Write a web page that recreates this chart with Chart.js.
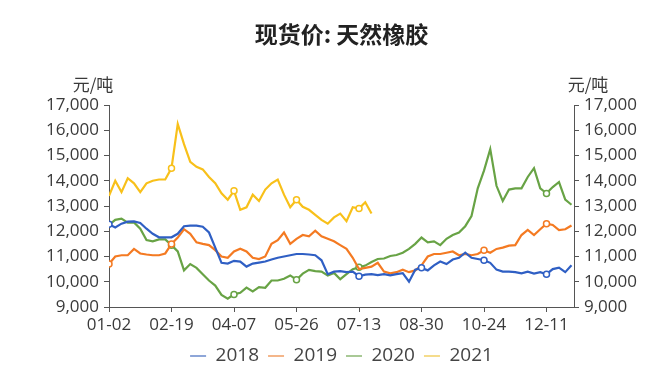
<!DOCTYPE html>
<html>
<head>
<meta charset="utf-8">
<script src="https://cdn.jsdelivr.net/npm/chart.js@4.4.1/dist/chart.umd.min.js"></script>
<style>
  body { margin: 0; background: #fff; }
</style>
</head>
<body>
<canvas id="rubber" width="671" height="385"></canvas>
<script>
// x ticks, one label every 10 points
const tickLabels = ['01-02', '02-19', '04-07', '05-26', '07-13', '08-30', '10-24', '12-11'];
const tickStep = 10;
const seriesNames = ['2018', '2019', '2020', '2021'];

const price2018 = [12280, 12150, 12300, 12380, 12390, 12330, 12100, 11900, 11760, 11760,
  11760, 11900, 12200, 12220, 12220, 12180, 11950, 11350, 10750, 10720,
  10830, 10800, 10600, 10720, 10760, 10800, 10880, 10950, 11000, 11050,
  11100, 11100, 11080, 11050, 10850, 10300, 10400, 10420, 10380, 10400,
  10220, 10280, 10300, 10260, 10300, 10250, 10300, 10340, 10000, 10480,
  10550, 10450, 10650, 10800, 10700, 10880, 10950, 11150, 10950, 10900,
  10850, 10750, 10480, 10400, 10400, 10380, 10330, 10400, 10320, 10380,
  10300, 10500, 10560, 10380, 10650];

const price2019 = [10700, 11000, 11050, 11050, 11300, 11120, 11080, 11050, 11050, 11120,
  11500, 11750, 12080, 11900, 11560, 11500, 11450, 11250, 11000, 10950,
  11200, 11310, 11200, 10950, 10900, 11000, 11500, 11650, 11950, 11500,
  11700, 11850, 11800, 12020, 11800, 11700, 11600, 11450, 11300, 10950,
  10500, 10550, 10600, 10750, 10400, 10330, 10380, 10480, 10380, 10450,
  10650, 11000, 11100, 11100, 11150, 11200, 11050, 11100, 11050, 11100,
  11250, 11150, 11300, 11350, 11430, 11450, 11850, 12050, 11850, 12080,
  12300, 12250, 12050, 12080, 12230];

const price2020 = [12250, 12450, 12500, 12340, 12350, 12100, 11650, 11600, 11680, 11680,
  11450, 11200, 10450, 10700, 10550, 10300, 10050, 9850, 9480, 9330,
  9500, 9560, 9770, 9620, 9790, 9760, 10050, 10050, 10120, 10250,
  10080, 10320, 10470, 10420, 10400, 10250, 10350, 10100, 10300, 10500,
  10570, 10640, 10780, 10900, 10920, 11020, 11060, 11150, 11300, 11500,
  11750, 11560, 11600, 11450, 11700, 11850, 11950, 12200, 12600, 13700,
  14400, 15250, 13800, 13200, 13650, 13700, 13700, 14150, 14500, 13700,
  13500, 13750, 13950, 13250, 13050];

const price2021 = [13400, 14000, 13550, 14100, 13900, 13550, 13900, 14000, 14050, 14050,
  14500, 16250, 15450, 14750, 14550, 14450, 14150, 13900, 13500, 13250,
  13600, 12850, 12950, 13450, 13200, 13650, 13900, 14050, 13450, 12950,
  13250, 12970, 12850, 12650, 12450, 12300, 12550, 12700, 12400, 12950,
  12900, 13150, 12700];

// hollow circles sit on some of the tick dates
const markers2018 = [0, 40, 50, 60, 70];
const markers2019 = [0, 10, 60, 70];
const markers2020 = [10, 20, 30, 40, 70];
const markers2021 = [10, 20, 30, 40];

const lineColors = ['#2f5fc4', '#f47a22', '#68a345', '#f8c01a'];
const legendColors = ['#8ea6d8', '#f4b68a', '#a9c996', '#f5dc8c'];
const axisColor = '#555';
const textColor = '#3a3a3a';
const numFont = { family: "'Open Sans', sans-serif", size: 17 };

const allPrices = [price2018, price2019, price2020, price2021];
const allMarkers = [markers2018, markers2019, markers2020, markers2021];

const datasets = allPrices.map((arr, k) => ({
  label: seriesNames[k],
  data: arr.map((y, i) => ({ x: i, y: y })),
  borderColor: lineColors[k],
  backgroundColor: '#fff',
  borderWidth: 2.2,
  tension: 0,
  pointRadius: ctx => allMarkers[k].includes(ctx.dataIndex) ? 3 : 0,
  pointBorderWidth: 1.5,
  pointBackgroundColor: '#fff',
  pointBorderColor: lineColors[k]
}));

// the 元/吨 unit over both y axes
const unitLabels = {
  id: 'unitLabels',
  afterDraw(chart) {
    const c = chart.ctx;
    const a = chart.chartArea;
    c.save();
    c.font = "17px 'Noto Sans CJK SC'";
    c.fillStyle = textColor;
    c.textAlign = 'center';
    c.textBaseline = 'middle';
    c.fillText('元/吨', a.left - 16, a.top - 20);
    c.fillText('元/吨', a.right + 14, a.top - 20);
    c.restore();
  }
};

const yAxis = (pos, w) => ({
  position: pos,
  min: 9000,
  max: 17000,
  ticks: { stepSize: 1000, color: textColor, font: numFont, padding: 5 },
  grid: { drawOnChartArea: false, tickLength: 5, color: axisColor },
  border: { color: axisColor },
  afterFit: s => { s.width = w; }
});

new Chart(document.getElementById('rubber'), {
  type: 'line',
  data: { datasets: datasets },
  options: {
    responsive: false,
    animation: false,
    layout: { padding: { bottom: 9.5 } },
    scales: {
      x: {
        type: 'linear',
        min: 0,
        max: 74.4,
        afterBuildTicks: s => { s.ticks = tickLabels.map((_, i) => ({ value: i * tickStep })); },
        ticks: {
          autoSkip: false,
          maxRotation: 0,
          color: textColor,
          font: numFont,
          padding: 3,
          callback: v => tickLabels[v / tickStep]
        },
        grid: { drawOnChartArea: false, tickLength: 5, color: axisColor },
        border: { color: axisColor },
        afterFit: s => { s.height = 30.5; }
      },
      y: yAxis('left', 109),
      y2: yAxis('right', 97)
    },
    plugins: {
      title: {
        display: true,
        fullSize: false,
        text: '现货价: 天然橡胶',
        color: '#222',
        font: { family: "'Noto Sans CJK SC'", size: 23, weight: 'bold' },
        padding: { top: 20, bottom: 57.4 }
      },
      legend: {
        position: 'bottom',
        fullSize: false,
        labels: {
          usePointStyle: true,
          pointStyle: 'line',
          pointStyleWidth: 16,
          padding: 9,
          color: '#444',
          font: { family: "'Open Sans', sans-serif", size: 19 },
          generateLabels: chart => Chart.defaults.plugins.legend.labels.generateLabels(chart)
            .map((l, i) => ({ ...l, strokeStyle: legendColors[i], lineWidth: 2, pointStyle: 'line' }))
        }
      },
      tooltip: { enabled: false }
    }
  },
  plugins: [unitLabels]
});
</script>
</body>
</html>
